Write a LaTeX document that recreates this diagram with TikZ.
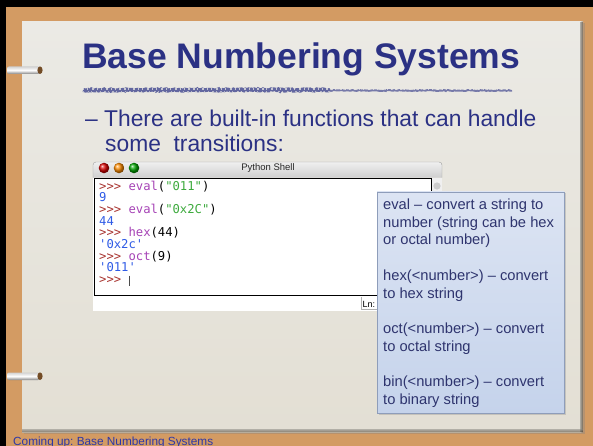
\documentclass[tikz,border=0pt]{standalone}
\usepackage{fontspec}
\setmainfont{Liberation Sans}
\setmonofont{DejaVu Sans Mono}
\usetikzlibrary{decorations.pathmorphing,shadows}

\definecolor{cork}{HTML}{D39B63}
\definecolor{paperhi}{HTML}{EBEAE5}
\definecolor{paperlo}{HTML}{E3DFD4}
\definecolor{navy}{HTML}{2B3184}
\definecolor{footblue}{HTML}{2E37A6}
\definecolor{tipnavy}{HTML}{2E346E}
\definecolor{prompt}{HTML}{A8332F}
\definecolor{builtin}{HTML}{A643B6}
\definecolor{strgreen}{HTML}{3DAA3D}
\definecolor{outblue}{HTML}{2F5BE6}
\definecolor{tiptop}{HTML}{DCE4F3}
\definecolor{tipbot}{HTML}{C5D3EB}
\definecolor{tipedge}{HTML}{8E9DBA}

\frenchspacing
\tikzset{
  slidetext/.style={anchor=base west, inner sep=0pt, text=navy},
  code/.style={anchor=base west, inner sep=0pt, font=\fontsize{12.2}{12}\ttfamily},
  tipline/.style={anchor=base west, inner sep=0pt, text=tipnavy, font=\fontsize{14.7}{17.6}\selectfont},
  light/.style={circle, minimum size=10.6pt, inner sep=0pt, shading=ball},
  ringtube/.style={top color=gray!35, bottom color=black!50, middle color=white, rounded corners=2pt}
}

\begin{document}
\begin{tikzpicture}[x=1pt,y=-1pt]
        \useasboundingbox (0,0) rectangle (593,446);
        \fill[cork] (0,0) rectangle (593,446);
        \fill[black] (0,0) rectangle (6,446);
        \fill[black] (0,0) rectangle (593,7);

        \fill[top color=paperhi, bottom color=paperlo, drop shadow={opacity=.35, shadow xshift=2pt, shadow yshift=-1.5pt}] (22,22) rectangle (583,432);
        \fill[left color=paperlo, right color=brown!55!black, opacity=.45] (580,22) rectangle (583,432);
        \fill[top color=paperlo, bottom color=brown!45!black, opacity=.3] (22,429) rectangle (583,432);

        \shade[ringtube] (7,66.5) rectangle (40,74);
        \fill[brown!60!black] (40,70.2) ellipse (2.6pt and 3.8pt);
        \shade[ringtube] (7,372.5) rectangle (40,380);
        \fill[brown!60!black] (40,376.2) ellipse (2.6pt and 3.8pt);

        \node[slidetext, font=\fontsize{35.5}{40}\selectfont\bfseries] (title) at (82,69) {Base Numbering Systems};

        \pgfmathsetseed{17}
        \draw[navy, opacity=.7, line width=4pt, decorate, decoration={random steps, segment length=1.5pt, amplitude=.6pt}] (83,90) -- (330,90);
        \draw[navy, opacity=.6, line width=2pt, decorate, decoration={random steps, segment length=1.5pt, amplitude=.5pt}] (330,90.5) -- (512,90.5);
        \draw[paperhi, opacity=.75, line width=1.5pt, dash pattern=on 1.2pt off 2.7pt on .8pt off 4.1pt on 2pt off 3pt] (83,89) -- (512,89);
        \draw[paperhi, opacity=.6, line width=1.2pt, dash pattern=on .9pt off 3.6pt on 1.6pt off 2.2pt] (83,91.5) -- (330,91.5);

        \node[slidetext, font=\fontsize{22.8}{25}\selectfont] (bullet) at (85,127) {-- There are built-in functions that can handle};
        \node[slidetext, font=\fontsize{22.8}{25}\selectfont] (bullettwo) at (105,152) {some\ \ transitions:};

        \draw[gray!75, top color=gray!12, bottom color=gray!38, rounded corners=3pt] (93,177.7) |- (442,162) -- (442,177.7);
        \fill[white] (93,177.7) rectangle (442,311);
        \fill[gray!12] (432,178) rectangle (442,295.5);
        \fill[gray!40] (437,186) circle (3.6pt);
        \draw[black, line width=1.4pt] (94.5,178.5) rectangle (431.5,295.5);
        \node[light, ball color=red!85!black] (closebtn) at (104,168) {};
        \node[light, ball color=orange!90!yellow] (minbtn) at (119,168) {};
        \node[light, ball color=green!65!black] (zoombtn) at (134,168) {};
        \node[font=\fontsize{9.5}{10}\selectfont, text=black!85] (shelltitle) at (268,168.5) {Python Shell};

        \node[code] (in1) at (99,190.3) {\textcolor{prompt}{>>>} \textcolor{builtin}{eval}(\textcolor{strgreen}{"011"})};
        \node[code, text=outblue] (out1) at (99,201.95) {9};
        \node[code] (in2) at (99,213.6) {\textcolor{prompt}{>>>} \textcolor{builtin}{eval}(\textcolor{strgreen}{"0x2C"})};
        \node[code, text=outblue] (out2) at (99,225.25) {44};
        \node[code] (in3) at (99,236.9) {\textcolor{prompt}{>>>} \textcolor{builtin}{hex}(44)};
        \node[code, text=outblue] (out3) at (99,248.55) {'0x2c'};
        \node[code] (in4) at (99,260.2) {\textcolor{prompt}{>>>} \textcolor{builtin}{oct}(9)};
        \node[code, text=outblue] (out4) at (99,271.85) {'011'};
        \node[code] (in5) at (99,283.5) {\textcolor{prompt}{>>>}};
        \draw[black!70, line width=.6pt] (129.5,275.5) -- (129.5,286);

        \draw[gray!60] (361,297) -- (361,309) -- (377,309);
        \node[anchor=base west, inner sep=0pt, font=\fontsize{9}{10}\selectfont] (lnlabel) at (362.5,307) {Ln:};

        \draw[tipedge, line width=.8pt, top color=tiptop, bottom color=tipbot, drop shadow={opacity=.3, shadow xshift=1.5pt, shadow yshift=-1.5pt}] (377,192) rectangle (564,413);
        \foreach \ty/\tl [count=\i] in {209.5/{eval -- convert a string to}, 227.2/{number (string can be hex}, 244.9/{or octal number)}, 280.3/{hex(<number>) -- convert}, 298/{to hex string}, 333.4/{oct(<number>) -- convert}, 351.1/{to octal string}, 386.5/{bin(<number>) -- convert}, 404.2/{to binary string}}
            \node[tipline] (tip\i) at (383,\ty) {\tl};

        \node[anchor=base west, inner sep=0pt, text=footblue, font=\fontsize{11.8}{12}\selectfont] (footer) at (13,445) {Coming up: Base Numbering Systems};
\end{tikzpicture}
\end{document}
